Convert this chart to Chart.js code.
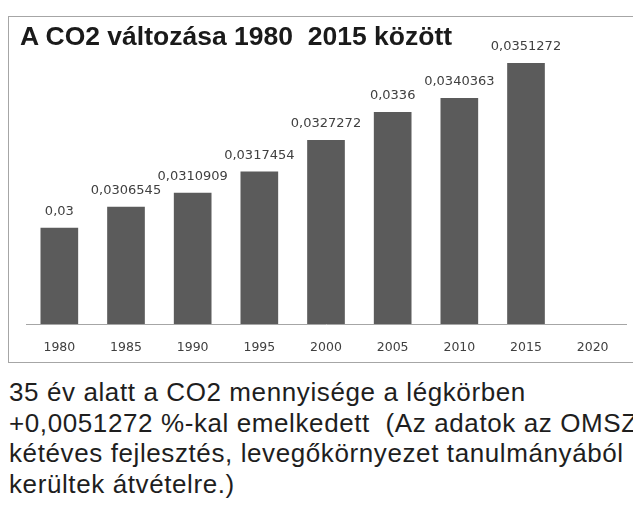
<!DOCTYPE html>
<html lang="hu">
<head>
<meta charset="utf-8">
<title>A CO2 változása 1980 2015 között</title>
<script src="https://cdn.jsdelivr.net/npm/chart.js@4/dist/chart.umd.min.js"></script>
<style>
    html, body { margin: 0; padding: 0; background: #fff; }
    body { width: 633px; height: 508px; overflow: hidden; position: relative; }
    #frame {
        position: absolute; left: 8px; top: 16px;
        width: 700px; height: 345px;
        border: 1px solid #a6a6a6;
    }
    #chartCo2 { position: absolute; left: 0; top: 0; }
    #chartTitle {
        position: absolute; left: 20px; top: 23px;
        font: bold 26.5px "Liberation Sans", Arial, sans-serif;
        line-height: 26.5px; color: #1a1a1a; white-space: pre;
    }
    #note {
        position: absolute; left: 9px; top: 377px;
        font: 26px "Liberation Sans", Arial, sans-serif;
        letter-spacing: 0.6px;
        line-height: 30.5px; color: #1e1e1e; white-space: pre;
    }
</style>
</head>
<body>
<div id="frame"></div>
<canvas id="chartCo2" width="633" height="373"></canvas>
<div id="chartTitle">A CO2 változása 1980  2015 között</div>
<div id="note">35 év alatt a CO2 mennyisége a légkörben
+0,0051272 %-kal emelkedett  (Az adatok az OMSZ
kétéves fejlesztés, levegőkörnyezet tanulmányából
kerültek átvételre.)</div>

<script>
const years = ['1980', '1985', '1990', '1995', '2000', '2005', '2010', '2015', '2020'];
const co2 = [0.03, 0.0306545, 0.0310909, 0.0317454, 0.0327272, 0.0336, 0.0340363, 0.0351272, null];
const yMin = 0.027;
const yMax = 0.036;

// value labels above the bars, decimal comma like the original
const barValueLabels = {
    id: 'barValueLabels',
    afterDatasetsDraw(chart) {
        const ctx = chart.ctx;
        const meta = chart.getDatasetMeta(0);
        ctx.save();
        ctx.font = '13px "DejaVu Sans"';
        ctx.fillStyle = '#404040';
        ctx.textAlign = 'center';
        ctx.textBaseline = 'middle';
        meta.data.forEach((bar, i) => {
            const v = co2[i];
            if (v == null) return;
            ctx.fillText(String(v).replace('.', ','), bar.x, bar.y - 16);
        });
        ctx.restore();
    }
};

const ctx = document.getElementById('chartCo2').getContext('2d');
new Chart(ctx, {
    type: 'bar',
    data: {
        labels: years,
        datasets: [{
            data: co2,
            backgroundColor: '#5b5b5b',
            borderWidth: 0,
            categoryPercentage: 1,
            barPercentage: 0.565
        }]
    },
    options: {
        responsive: false,
        animation: false,
        layout: { padding: { left: 26, right: 7, top: 35, bottom: 2 } },
        plugins: {
            legend: { display: false },
            tooltip: { enabled: false }
        },
        scales: {
            x: {
                grid: { display: false, drawTicks: false },
                border: { display: true, color: '#a6a6a6', width: 1 },
                ticks: { color: '#404040', padding: 16, font: { family: 'DejaVu Sans', size: 12.5 } }
            },
            y: { display: false, min: yMin, max: yMax }
        }
    },
    plugins: [barValueLabels]
});
</script>
</body>
</html>
